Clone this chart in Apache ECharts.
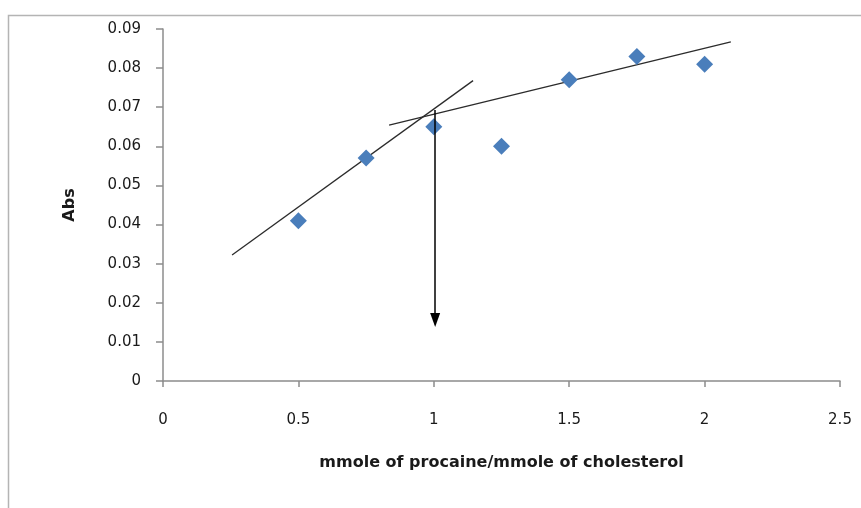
<!DOCTYPE html>
<html>
<head>
<meta charset="utf-8">
<script src="https://cdn.jsdelivr.net/npm/echarts@6/dist/echarts.min.js"></script>
<style>
  html, body { margin: 0; padding: 0; background: #fff; }
  #chart { width: 861px; height: 508px; }
</style>
</head>
<body>
<div id="chart"></div>
<script>
// Absorbance against procaine/cholesterol molar ratio
const ratio = [0.5, 0.75, 1.0, 1.25, 1.5, 1.75, 2.0];
const absorbance = [0.041, 0.057, 0.065, 0.060, 0.077, 0.083, 0.081];

// Two hand-drawn trend lines (start / end points)
const fitLow = [[0.255, 0.0322], [1.145, 0.0768]];
const fitHigh = [[0.835, 0.0654], [2.097, 0.0867]];

// Arrow dropped from the break point to the x axis
const arrowFrom = [1.005, 0.0693];
const arrowTo = [1.005, 0.0156];

const xTicks = [0, 0.5, 1, 1.5, 2, 2.5];
const yTicks = [0, 0.01, 0.02, 0.03, 0.04, 0.05, 0.06, 0.07, 0.08, 0.09];

const points = ratio.map((x, i) => [x, absorbance[i]]);
const font = 'DejaVu Sans';

const chart = echarts.init(document.getElementById('chart'), null, { renderer: 'canvas' });
chart.setOption({
  animation: false,
  backgroundColor: '#fff',
  grid: { left: 163, right: 21, top: 29, bottom: 127 },
  graphic: [{
    type: 'polyline',
    shape: { points: [[8.5, 508], [8.5, 15.5], [861, 15.5]] },
    style: { stroke: '#b4b4b4', lineWidth: 1.5, fill: null },
    silent: true
  }],
  xAxis: {
    type: 'value',
    min: xTicks[0],
    max: xTicks[xTicks.length - 1],
    interval: 0.5,
    name: 'mmole of procaine/mmole of cholesterol',
    nameLocation: 'middle',
    nameGap: 74,
    nameTextStyle: { fontFamily: font, fontSize: 16, fontWeight: 'bold', color: '#1a1a1a' },
    axisLine: { show: true, lineStyle: { color: '#8c8c8c', width: 1.5 } },
    axisTick: { show: true, length: 6, lineStyle: { color: '#8c8c8c', width: 1.5 } },
    axisLabel: { margin: 32, fontFamily: font, fontSize: 15, color: '#1a1a1a',
      formatter: v => String(v) },
    splitLine: { show: false }
  },
  yAxis: {
    type: 'value',
    min: yTicks[0],
    max: yTicks[yTicks.length - 1],
    interval: 0.01,
    name: 'Abs',
    nameLocation: 'middle',
    nameGap: 85,
    nameRotate: 90,
    nameTextStyle: { fontFamily: font, fontSize: 16, fontWeight: 'bold', color: '#1a1a1a' },
    axisLine: { show: true, lineStyle: { color: '#8c8c8c', width: 1.5 } },
    axisTick: { show: true, length: 7, lineStyle: { color: '#8c8c8c', width: 1.5 } },
    axisLabel: { margin: 22, fontFamily: font, fontSize: 15, color: '#1a1a1a',
      formatter: v => (v === 0 ? '0' : v.toFixed(2)) },
    splitLine: { show: false }
  },
  series: [
    {
      type: 'line',
      data: fitLow,
      symbol: 'none',
      lineStyle: { color: '#2b2b2b', width: 1.3 },
      silent: true,
      z: 2
    },
    {
      type: 'line',
      data: fitHigh,
      symbol: 'none',
      lineStyle: { color: '#2b2b2b', width: 1.3 },
      silent: true,
      z: 2,
      markLine: {
        silent: true,
        symbol: ['none', 'triangle'],
        symbolSize: [10, 14],
        label: { show: false },
        lineStyle: { color: '#000', width: 1.5, type: 'solid' },
        data: [[{ coord: arrowFrom }, { coord: arrowTo }]]
      }
    },
    {
      type: 'scatter',
      data: points,
      symbol: 'diamond',
      symbolSize: [17, 17],
      itemStyle: { color: '#4a7ebb', opacity: 1 },
      z: 3
    }
  ]
});
</script>
</body>
</html>
